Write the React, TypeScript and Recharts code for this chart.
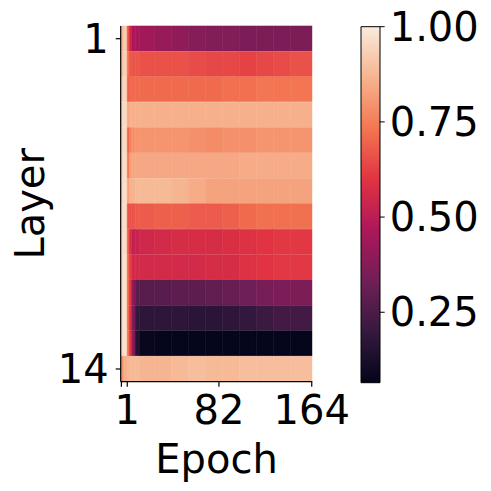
import { BarChart, Bar, Cell, XAxis, YAxis, Label } from "recharts";

// epoch bin edges (columns of the heatmap)
const EPOCH_EDGES = [-4.8, -2, 1, 3, 5, 8, 12, 25, 40, 55, 70, 85, 100, 115, 130, 145, 164.5];
const X_TICKS = [-4.2, 1, 82, 164];
const LAYERS = [1, 2, 3, 4, 5, 6, 7, 8, 9, 10, 11, 12, 13, 14];
const Y_TICKS = [1, 14];

// one value per epoch bin
const layer1 = [0.88, 0.93, 0.66, 0.54, 0.47, 0.45, 0.44, 0.42, 0.4, 0.38, 0.37, 0.37, 0.36, 0.36, 0.36, 0.36];
const layer2 = [0.9, 0.94, 0.72, 0.67, 0.67, 0.67, 0.66, 0.66, 0.66, 0.65, 0.64, 0.64, 0.63, 0.64, 0.65, 0.66];
const layer3 = [0.93, 0.95, 0.69, 0.7, 0.71, 0.71, 0.71, 0.71, 0.71, 0.71, 0.71, 0.72, 0.72, 0.73, 0.73, 0.73];
const layer4 = [0.95, 0.96, 0.84, 0.86, 0.86, 0.86, 0.86, 0.86, 0.86, 0.86, 0.86, 0.86, 0.86, 0.86, 0.86, 0.86];
const layer5 = [0.95, 0.96, 0.7, 0.76, 0.79, 0.8, 0.8, 0.8, 0.8, 0.79, 0.78, 0.79, 0.79, 0.8, 0.8, 0.8];
const layer6 = [0.95, 0.97, 0.74, 0.82, 0.84, 0.84, 0.84, 0.84, 0.84, 0.84, 0.84, 0.84, 0.85, 0.85, 0.85, 0.85];
const layer7 = [0.95, 0.97, 0.82, 0.86, 0.87, 0.88, 0.88, 0.88, 0.87, 0.85, 0.83, 0.83, 0.83, 0.83, 0.83, 0.83];
const layer8 = [0.96, 0.97, 0.66, 0.66, 0.67, 0.68, 0.68, 0.69, 0.69, 0.68, 0.68, 0.69, 0.71, 0.72, 0.72, 0.72];
const layer9 = [0.96, 0.97, 0.68, 0.58, 0.52, 0.53, 0.55, 0.56, 0.57, 0.57, 0.57, 0.58, 0.59, 0.6, 0.61, 0.61];
const layer10 = [0.96, 0.98, 0.7, 0.62, 0.56, 0.56, 0.56, 0.56, 0.56, 0.56, 0.57, 0.57, 0.59, 0.6, 0.61, 0.61];
const layer11 = [0.96, 0.98, 0.7, 0.6, 0.4, 0.28, 0.28, 0.28, 0.29, 0.29, 0.3, 0.31, 0.33, 0.35, 0.36, 0.36];
const layer12 = [0.96, 0.98, 0.7, 0.58, 0.36, 0.19, 0.18, 0.18, 0.18, 0.17, 0.17, 0.18, 0.19, 0.21, 0.23, 0.23];
const layer13 = [0.96, 0.98, 0.72, 0.6, 0.4, 0.15, 0.08, 0.07, 0.07, 0.07, 0.07, 0.07, 0.07, 0.07, 0.07, 0.07];
const layer14 = [0.8, 0.86, 0.87, 0.88, 0.88, 0.88, 0.87, 0.87, 0.88, 0.89, 0.88, 0.88, 0.89, 0.89, 0.89, 0.89];
const LAYER_ROWS = [layer1, layer2, layer3, layer4, layer5, layer6, layer7, layer8, layer9, layer10, layer11, layer12, layer13, layer14];

const CBAR_MIN = 0.065;
const CBAR_MAX = 1.0;
const CBAR_TICKS = [0.25, 0.5, 0.75, 1.0];

// seaborn "rocket" approximation
const ROCKET: [number, string][] = [
  [0, "#03051a"],
  [1 / 7, "#35193e"],
  [2 / 7, "#701f57"],
  [3 / 7, "#ad1759"],
  [4 / 7, "#e13342"],
  [5 / 7, "#f37651"],
  [6 / 7, "#f6b48f"],
  [1, "#faebdd"],
];

const hex = (c: string) => [1, 3, 5].map((i) => parseInt(c.slice(i, i + 2), 16));

function rocket(v: number) {
  const t = Math.max(0, Math.min(1, (v - CBAR_MIN) / (CBAR_MAX - CBAR_MIN)));
  for (let i = 1; i < ROCKET.length; i++) {
    const [t1, c1] = ROCKET[i];
    if (t <= t1) {
      const [t0, c0] = ROCKET[i - 1];
      const f = (t - t0) / (t1 - t0);
      const a = hex(c0);
      const b = hex(c1);
      const rgb = a.map((x, k) => Math.round(x + (b[k] - x) * f));
      return `rgb(${rgb.join(",")})`;
    }
  }
  return ROCKET[ROCKET.length - 1][1];
}

const FONT = "DejaVu Sans";
const tickStyle = { fontSize: 40, fill: "#000", fontFamily: FONT };

const rows = LAYERS.map((layer) => {
  const row: Record<string, number> = { layer, lead: EPOCH_EDGES[0] };
  for (let i = 0; i < EPOCH_EDGES.length - 1; i++) row[`b${i}`] = EPOCH_EDGES[i + 1] - EPOCH_EDGES[i];
  return row;
});
const bins = EPOCH_EDGES.slice(1).map((_, i) => i);

const cbarData = [{ name: "cbar", top: CBAR_MAX }];

function EpochLabel(props: any) {
  const { x, y, width } = props.viewBox;
  return (
    <text x={x + width / 2} y={y + 91} textAnchor="middle" fontSize={40} fontFamily={FONT} fill="#000">
      Epoch
    </text>
  );
}

function LayerLabel(props: any) {
  const { x, y, height } = props.viewBox;
  const cx = x + 44;
  const cy = y + height / 2;
  return (
    <text x={cx} y={cy} transform={`rotate(-90, ${cx}, ${cy})`} textAnchor="middle" fontSize={40} fontFamily={FONT} fill="#000">
      Layer
    </text>
  );
}

export default function App() {
  return (
    <div style={{ position: "absolute", left: 0, top: 0, width: 491, height: 491, background: "#fff" }}>
      <div style={{ position: "absolute", left: 0, top: 0 }}>
        <BarChart
          width={491}
          height={491}
          data={rows}
          layout="vertical"
          barCategoryGap={0}
          barGap={0}
          margin={{ top: 26, right: 178.7, bottom: 49.3, left: 0 }}
        >
          <XAxis
            type="number"
            domain={[EPOCH_EDGES[0], EPOCH_EDGES[EPOCH_EDGES.length - 1]]}
            allowDataOverflow
            ticks={X_TICKS}
            interval={0}
            height={60}
            tickSize={5}
            tickMargin={9}
            tick={tickStyle}
            tickFormatter={(v: number) => (v < 0 ? "" : String(v))}
            stroke="#000"
            strokeWidth={1.2}
          >
            <Label content={<EpochLabel />} />
          </XAxis>
          <XAxis
            xAxisId="top"
            orientation="top"
            type="number"
            domain={[EPOCH_EDGES[0], EPOCH_EDGES[EPOCH_EDGES.length - 1]]}
            height={0}
            tick={false}
            tickLine={false}
            stroke="#000"
            strokeWidth={1.2}
          />
          <YAxis
            type="category"
            dataKey="layer"
            ticks={Y_TICKS}
            interval={0}
            width={120.7}
            tickSize={5}
            tickMargin={7}
            tick={tickStyle}
            stroke="#000"
            strokeWidth={1.2}
          >
            <Label content={<LayerLabel />} />
          </YAxis>
          <YAxis
            yAxisId="right"
            orientation="right"
            type="category"
            dataKey="layer"
            width={0}
            tick={false}
            tickLine={false}
            stroke="#000"
            strokeWidth={1.2}
          />
          <Bar dataKey="lead" stackId="h" fill="transparent" isAnimationActive={false} />
          {bins.map((i) => (
            <Bar key={i} dataKey={`b${i}`} stackId="h" isAnimationActive={false}>
              {LAYER_ROWS.map((row, r) => (
                <Cell key={r} fill={rocket(row[i])} stroke={rocket(row[i])} strokeWidth={0.6} />
              ))}
            </Bar>
          ))}
        </BarChart>
      </div>
      <div style={{ position: "absolute", left: 0, top: 0 }}>
        <BarChart
          width={491}
          height={491}
          data={cbarData}
          barCategoryGap={0}
          margin={{ top: 26.7, right: 11.3, bottom: 108.3, left: 361 }}
        >
          <defs>
            <linearGradient id="rocketGrad" x1="0" y1="1" x2="0" y2="0">
              {ROCKET.map(([t, c]) => (
                <stop key={t} offset={t} stopColor={c} />
              ))}
            </linearGradient>
          </defs>
          <XAxis dataKey="name" hide />
          <YAxis
            orientation="right"
            type="number"
            domain={[CBAR_MIN, CBAR_MAX]}
            ticks={CBAR_TICKS}
            interval={0}
            width={100}
            tickSize={5}
            tickMargin={5}
            axisLine={false}
            tick={tickStyle}
            tickLine={{ stroke: "#000" }}
            tickFormatter={(v: number) => v.toFixed(2)}
          />
          <Bar dataKey="top" fill="url(#rocketGrad)" stroke="#000" strokeWidth={1} isAnimationActive={false} />
        </BarChart>
      </div>
    </div>
  );
}
